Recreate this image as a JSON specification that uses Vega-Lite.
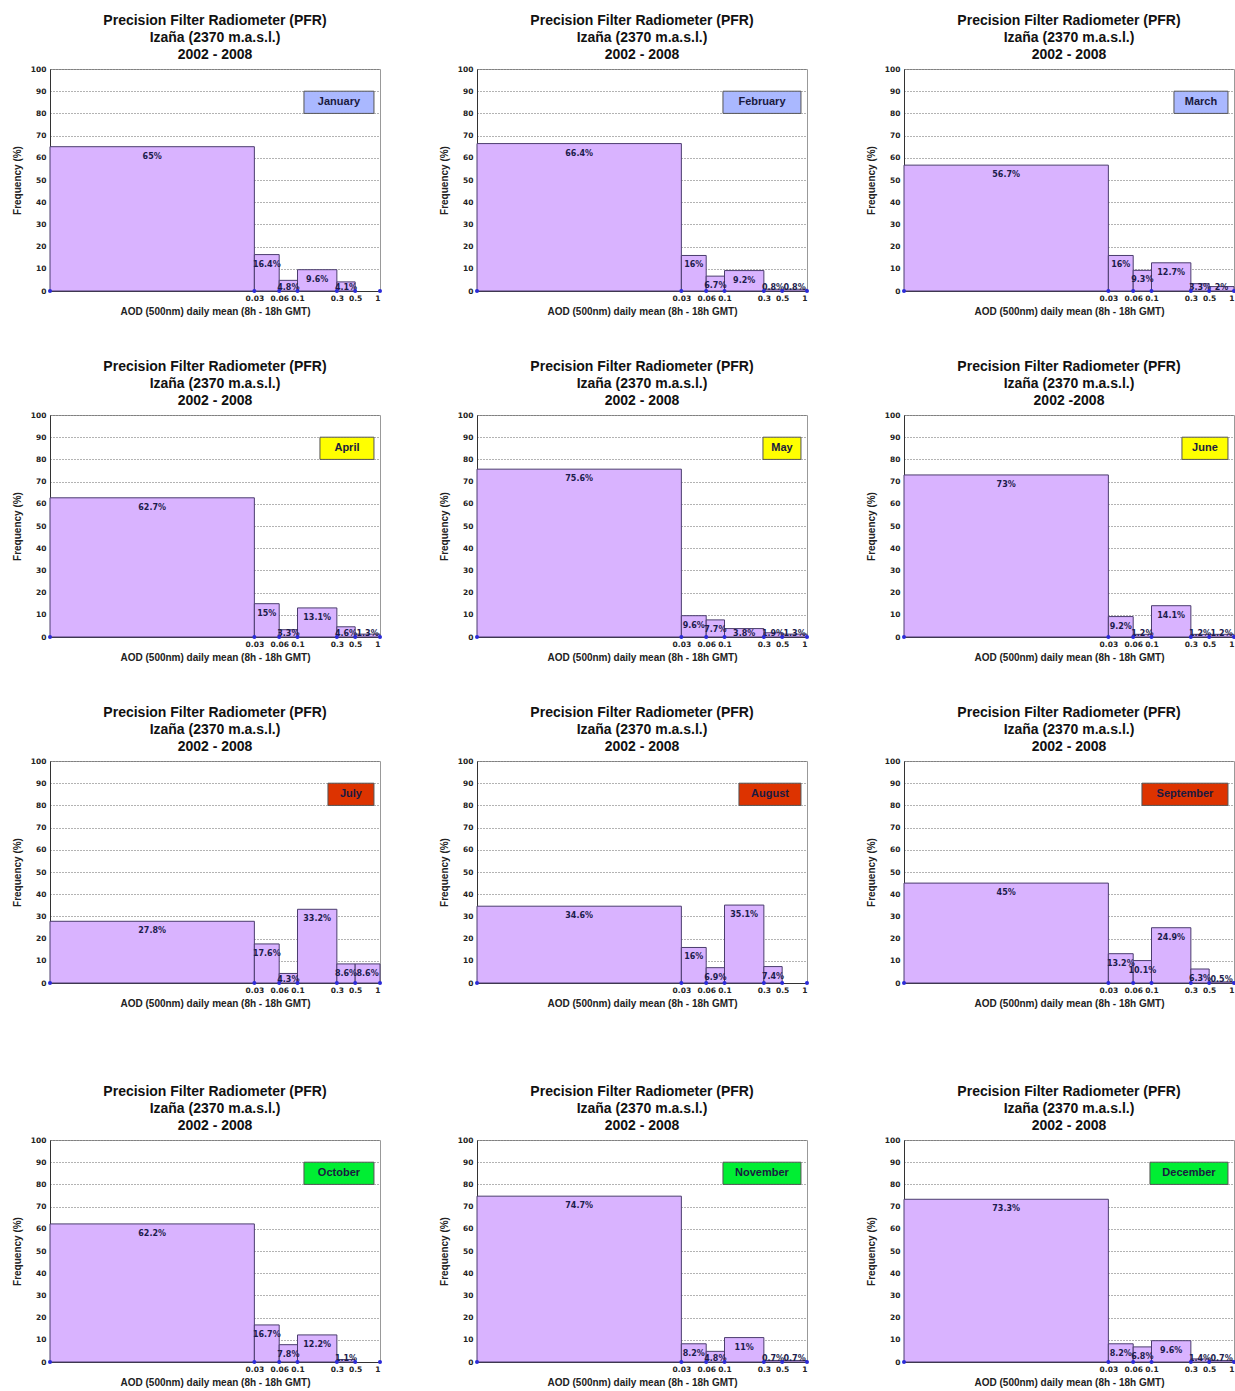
{
  "$schema": "https://vega.github.io/schema/vega-lite/v6.json",
  "padding": {"left": 11, "top": 13, "right": 0, "bottom": 0},
  "background": "white",
  "datasets": {
    "bins": [
      {"month": "January", "lo": 0.0001, "hi": 0.03, "pct": 65},
      {"month": "January", "lo": 0.03, "hi": 0.06, "pct": 16.4},
      {"month": "January", "lo": 0.06, "hi": 0.1, "pct": 4.8},
      {"month": "January", "lo": 0.1, "hi": 0.3, "pct": 9.6},
      {"month": "January", "lo": 0.3, "hi": 0.5, "pct": 4.1},
      {"month": "January", "lo": 0.5, "hi": 1, "pct": 0},
      {"month": "February", "lo": 0.0001, "hi": 0.03, "pct": 66.4},
      {"month": "February", "lo": 0.03, "hi": 0.06, "pct": 16},
      {"month": "February", "lo": 0.06, "hi": 0.1, "pct": 6.7},
      {"month": "February", "lo": 0.1, "hi": 0.3, "pct": 9.2},
      {"month": "February", "lo": 0.3, "hi": 0.5, "pct": 0.8},
      {"month": "February", "lo": 0.5, "hi": 1, "pct": 0.8},
      {"month": "March", "lo": 0.0001, "hi": 0.03, "pct": 56.7},
      {"month": "March", "lo": 0.03, "hi": 0.06, "pct": 16},
      {"month": "March", "lo": 0.06, "hi": 0.1, "pct": 9.3},
      {"month": "March", "lo": 0.1, "hi": 0.3, "pct": 12.7},
      {"month": "March", "lo": 0.3, "hi": 0.5, "pct": 3.3},
      {"month": "March", "lo": 0.5, "hi": 1, "pct": 2},
      {"month": "April", "lo": 0.0001, "hi": 0.03, "pct": 62.7},
      {"month": "April", "lo": 0.03, "hi": 0.06, "pct": 15},
      {"month": "April", "lo": 0.06, "hi": 0.1, "pct": 3.3},
      {"month": "April", "lo": 0.1, "hi": 0.3, "pct": 13.1},
      {"month": "April", "lo": 0.3, "hi": 0.5, "pct": 4.6},
      {"month": "April", "lo": 0.5, "hi": 1, "pct": 1.3},
      {"month": "May", "lo": 0.0001, "hi": 0.03, "pct": 75.6},
      {"month": "May", "lo": 0.03, "hi": 0.06, "pct": 9.6},
      {"month": "May", "lo": 0.06, "hi": 0.1, "pct": 7.7},
      {"month": "May", "lo": 0.1, "hi": 0.3, "pct": 3.8},
      {"month": "May", "lo": 0.3, "hi": 0.5, "pct": 1.9},
      {"month": "May", "lo": 0.5, "hi": 1, "pct": 1.3},
      {"month": "June", "lo": 0.0001, "hi": 0.03, "pct": 73},
      {"month": "June", "lo": 0.03, "hi": 0.06, "pct": 9.2},
      {"month": "June", "lo": 0.06, "hi": 0.1, "pct": 1.2},
      {"month": "June", "lo": 0.1, "hi": 0.3, "pct": 14.1},
      {"month": "June", "lo": 0.3, "hi": 0.5, "pct": 1.2},
      {"month": "June", "lo": 0.5, "hi": 1, "pct": 1.2},
      {"month": "July", "lo": 0.0001, "hi": 0.03, "pct": 27.8},
      {"month": "July", "lo": 0.03, "hi": 0.06, "pct": 17.6},
      {"month": "July", "lo": 0.06, "hi": 0.1, "pct": 4.3},
      {"month": "July", "lo": 0.1, "hi": 0.3, "pct": 33.2},
      {"month": "July", "lo": 0.3, "hi": 0.5, "pct": 8.6},
      {"month": "July", "lo": 0.5, "hi": 1, "pct": 8.6},
      {"month": "August", "lo": 0.0001, "hi": 0.03, "pct": 34.6},
      {"month": "August", "lo": 0.03, "hi": 0.06, "pct": 16},
      {"month": "August", "lo": 0.06, "hi": 0.1, "pct": 6.9},
      {"month": "August", "lo": 0.1, "hi": 0.3, "pct": 35.1},
      {"month": "August", "lo": 0.3, "hi": 0.5, "pct": 7.4},
      {"month": "August", "lo": 0.5, "hi": 1, "pct": 0},
      {"month": "September", "lo": 0.0001, "hi": 0.03, "pct": 45},
      {"month": "September", "lo": 0.03, "hi": 0.06, "pct": 13.2},
      {"month": "September", "lo": 0.06, "hi": 0.1, "pct": 10.1},
      {"month": "September", "lo": 0.1, "hi": 0.3, "pct": 24.9},
      {"month": "September", "lo": 0.3, "hi": 0.5, "pct": 6.3},
      {"month": "September", "lo": 0.5, "hi": 1, "pct": 0.5},
      {"month": "October", "lo": 0.0001, "hi": 0.03, "pct": 62.2},
      {"month": "October", "lo": 0.03, "hi": 0.06, "pct": 16.7},
      {"month": "October", "lo": 0.06, "hi": 0.1, "pct": 7.8},
      {"month": "October", "lo": 0.1, "hi": 0.3, "pct": 12.2},
      {"month": "October", "lo": 0.3, "hi": 0.5, "pct": 1.1},
      {"month": "October", "lo": 0.5, "hi": 1, "pct": 0},
      {"month": "November", "lo": 0.0001, "hi": 0.03, "pct": 74.7},
      {"month": "November", "lo": 0.03, "hi": 0.06, "pct": 8.2},
      {"month": "November", "lo": 0.06, "hi": 0.1, "pct": 4.8},
      {"month": "November", "lo": 0.1, "hi": 0.3, "pct": 11},
      {"month": "November", "lo": 0.3, "hi": 0.5, "pct": 0.7},
      {"month": "November", "lo": 0.5, "hi": 1, "pct": 0.7},
      {"month": "December", "lo": 0.0001, "hi": 0.03, "pct": 73.3},
      {"month": "December", "lo": 0.03, "hi": 0.06, "pct": 8.2},
      {"month": "December", "lo": 0.06, "hi": 0.1, "pct": 6.8},
      {"month": "December", "lo": 0.1, "hi": 0.3, "pct": 9.6},
      {"month": "December", "lo": 0.3, "hi": 0.5, "pct": 1.4},
      {"month": "December", "lo": 0.5, "hi": 1, "pct": 0.7}
    ]
  },
  "vconcat": [
    {
      "data": {"name": "bins"},
      "transform": [{"filter": "indexof(['October','November','December'], datum.month) < 0"}],
      "facet": {
        "field": "month",
        "type": "nominal",
        "title": null,
        "sort": ["January", "February", "March", "April", "May", "June", "July", "August", "September"],
        "header": {
          "labelExpr": "['Precision Filter Radiometer (PFR)', 'Izaña (2370 m.a.s.l.)', datum.value == 'June' ? '2002 -2008' : '2002 - 2008']"
        }
      },
      "columns": 3,
      "spacing": {"row": 42, "column": 55},
      "resolve": {"axis": {"x": "independent", "y": "independent"}},
      "spec": {
        "width": 330,
        "height": 222,
        "layer": [
          {
            "transform": [{"filter": "datum.pct > 0"}],
            "mark": {"type": "rect", "fill": "#d9b3ff", "stroke": "#4b3d6e", "strokeWidth": 1},
            "encoding": {
              "x": {
                "field": "lo", "type": "quantitative",
                "scale": {"type": "log", "domain": [0.0001, 1], "nice": false},
                "axis": {"values": [0.03, 0.06, 0.1, 0.3, 0.5, 1], "format": "~g", "title": "AOD (500nm) daily mean (8h - 18h GMT)", "grid": false, "labelPadding": 3, "titlePadding": 5, "labelOverlap": false}
              },
              "x2": {"field": "hi"},
              "y": {
                "field": "pct", "type": "quantitative",
                "scale": {"domain": [0, 100], "nice": false},
                "axis": {"values": [0, 10, 20, 30, 40, 50, 60, 70, 80, 90, 100], "tickCount": 11, "title": "Frequency (%)", "grid": true, "labelPadding": 4, "titlePadding": 8, "labelOverlap": false}
              },
              "y2": {"datum": 0}
            }
          },
          {
            "transform": [
              {"filter": "datum.pct > 0"},
              {"calculate": "sqrt(datum.lo * datum.hi)", "as": "xm"},
              {"calculate": "max(datum.pct, 6)", "as": "ly"},
              {"calculate": "datum.pct + '%'", "as": "lbl"}
            ],
            "mark": {"type": "text", "font": "DejaVu Sans", "fontWeight": "bold", "fontSize": 8, "dy": 10, "color": "#1c1c4c"},
            "encoding": {
              "x": {"field": "xm", "type": "quantitative"},
              "y": {"field": "ly", "type": "quantitative"},
              "text": {"field": "lbl"}
            }
          },
          {
            "mark": {"type": "point", "filled": true, "size": 16, "color": "#2b2bd9", "opacity": 1},
            "encoding": {"x": {"field": "lo", "type": "quantitative"}, "y": {"datum": 0}}
          },
          {
            "transform": [{"filter": "datum.hi == 1"}],
            "mark": {"type": "point", "filled": true, "size": 16, "color": "#2b2bd9", "opacity": 1},
            "encoding": {"x": {"field": "hi", "type": "quantitative"}, "y": {"datum": 0}}
          },
          {
            "transform": [
              {"filter": "datum.lo == 0.0001"},
              {"calculate": "0.845 / pow(10, (8 * length(datum.month) + 14) / 82.5)", "as": "bx1"},
              {"calculate": "0.845", "as": "bx2"}
            ],
            "mark": {"type": "rect", "stroke": "#555555", "strokeWidth": 1},
            "encoding": {
              "x": {"field": "bx1", "type": "quantitative"},
              "x2": {"field": "bx2"},
              "y": {"datum": 80},
              "y2": {"datum": 90},
              "fill": {
                "field": "month", "type": "nominal", "legend": null,
                "scale": {
                  "domain": ["January", "February", "March", "April", "May", "June", "July", "August", "September", "October", "November", "December"],
                  "range": ["#aab8ff", "#aab8ff", "#aab8ff", "#ffff00", "#ffff00", "#ffff00", "#dd3300", "#dd3300", "#dd3300", "#00ee33", "#00ee33", "#00ee33"]
                }
              }
            }
          },
          {
            "transform": [
              {"filter": "datum.lo == 0.0001"},
              {"calculate": "0.845 / pow(10, (4 * length(datum.month) + 7) / 82.5)", "as": "bxm"}
            ],
            "mark": {"type": "text", "font": "Liberation Sans", "fontWeight": "bold", "fontSize": 11, "color": "#1a1a40"},
            "encoding": {
              "x": {"field": "bxm", "type": "quantitative"},
              "y": {"datum": 85},
              "text": {"field": "month"}
            }
          }
        ]
      }
    },
    {
      "data": {"name": "bins"},
      "transform": [{"filter": "indexof(['October','November','December'], datum.month) >= 0"}],
      "facet": {
        "field": "month",
        "type": "nominal",
        "title": null,
        "sort": ["October", "November", "December"],
        "header": {
          "labelExpr": "['Precision Filter Radiometer (PFR)', 'Izaña (2370 m.a.s.l.)', '2002 - 2008']"
        }
      },
      "columns": 3,
      "spacing": {"row": 42, "column": 55},
      "resolve": {"axis": {"x": "independent", "y": "independent"}},
      "spec": {
        "width": 330,
        "height": 222,
        "layer": [
          {
            "transform": [{"filter": "datum.pct > 0"}],
            "mark": {"type": "rect", "fill": "#d9b3ff", "stroke": "#4b3d6e", "strokeWidth": 1},
            "encoding": {
              "x": {
                "field": "lo", "type": "quantitative",
                "scale": {"type": "log", "domain": [0.0001, 1], "nice": false},
                "axis": {"values": [0.03, 0.06, 0.1, 0.3, 0.5, 1], "format": "~g", "title": "AOD (500nm) daily mean (8h - 18h GMT)", "grid": false, "labelPadding": 3, "titlePadding": 5, "labelOverlap": false}
              },
              "x2": {"field": "hi"},
              "y": {
                "field": "pct", "type": "quantitative",
                "scale": {"domain": [0, 100], "nice": false},
                "axis": {"values": [0, 10, 20, 30, 40, 50, 60, 70, 80, 90, 100], "tickCount": 11, "title": "Frequency (%)", "grid": true, "labelPadding": 4, "titlePadding": 8, "labelOverlap": false}
              },
              "y2": {"datum": 0}
            }
          },
          {
            "transform": [
              {"filter": "datum.pct > 0"},
              {"calculate": "sqrt(datum.lo * datum.hi)", "as": "xm"},
              {"calculate": "max(datum.pct, 6)", "as": "ly"},
              {"calculate": "datum.pct + '%'", "as": "lbl"}
            ],
            "mark": {"type": "text", "font": "DejaVu Sans", "fontWeight": "bold", "fontSize": 8, "dy": 10, "color": "#1c1c4c"},
            "encoding": {
              "x": {"field": "xm", "type": "quantitative"},
              "y": {"field": "ly", "type": "quantitative"},
              "text": {"field": "lbl"}
            }
          },
          {
            "mark": {"type": "point", "filled": true, "size": 16, "color": "#2b2bd9", "opacity": 1},
            "encoding": {"x": {"field": "lo", "type": "quantitative"}, "y": {"datum": 0}}
          },
          {
            "transform": [{"filter": "datum.hi == 1"}],
            "mark": {"type": "point", "filled": true, "size": 16, "color": "#2b2bd9", "opacity": 1},
            "encoding": {"x": {"field": "hi", "type": "quantitative"}, "y": {"datum": 0}}
          },
          {
            "transform": [
              {"filter": "datum.lo == 0.0001"},
              {"calculate": "0.845 / pow(10, (8 * length(datum.month) + 14) / 82.5)", "as": "bx1"},
              {"calculate": "0.845", "as": "bx2"}
            ],
            "mark": {"type": "rect", "stroke": "#555555", "strokeWidth": 1},
            "encoding": {
              "x": {"field": "bx1", "type": "quantitative"},
              "x2": {"field": "bx2"},
              "y": {"datum": 80},
              "y2": {"datum": 90},
              "fill": {
                "field": "month", "type": "nominal", "legend": null,
                "scale": {
                  "domain": ["January", "February", "March", "April", "May", "June", "July", "August", "September", "October", "November", "December"],
                  "range": ["#aab8ff", "#aab8ff", "#aab8ff", "#ffff00", "#ffff00", "#ffff00", "#dd3300", "#dd3300", "#dd3300", "#00ee33", "#00ee33", "#00ee33"]
                }
              }
            }
          },
          {
            "transform": [
              {"filter": "datum.lo == 0.0001"},
              {"calculate": "0.845 / pow(10, (4 * length(datum.month) + 7) / 82.5)", "as": "bxm"}
            ],
            "mark": {"type": "text", "font": "Liberation Sans", "fontWeight": "bold", "fontSize": 11, "color": "#1a1a40"},
            "encoding": {
              "x": {"field": "bxm", "type": "quantitative"},
              "y": {"datum": 85},
              "text": {"field": "month"}
            }
          }
        ]
      }
    }
  ],
  "spacing": 75,
  "config": {
    "view": {"stroke": "#999999"},
    "header": {
      "labelFont": "Liberation Sans",
      "labelFontSize": 14,
      "labelFontWeight": "bold",
      "labelColor": "#111111",
      "labelPadding": 3,
      "labelLineHeight": 17
    },
    "axis": {
      "domainColor": "#333333",
      "ticks": false,
      "labelFont": "DejaVu Sans",
      "labelFontWeight": "bold",
      "labelFontSize": 7.5,
      "labelColor": "#222222",
      "titleFont": "Liberation Sans",
      "titleFontWeight": "bold",
      "titleFontSize": 10,
      "titleColor": "#222222",
      "gridColor": "#666666",
      "gridDash": [1, 2]
    }
  }
}
